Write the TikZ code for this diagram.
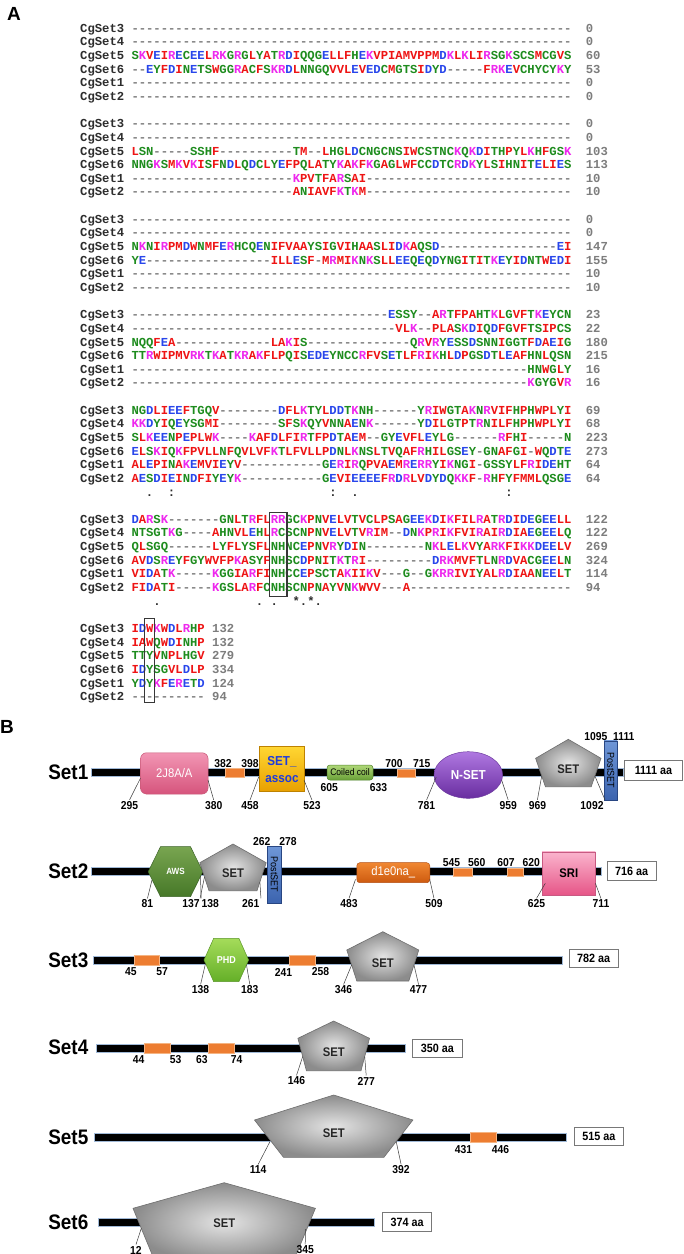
\documentclass[tikz,border=0pt]{standalone}
\usepackage{fontspec}
\setmainfont{Liberation Sans}
\newfontfamily\seqfont{Liberation Mono}
\newfontfamily\narrowfont{Liberation Sans}[FakeStretch=0.9]
\usetikzlibrary{shapes.geometric}

\definecolor{aared}{RGB}{238,20,20}
\definecolor{aablue}{RGB}{40,70,235}
\definecolor{aamag}{RGB}{238,40,238}
\definecolor{aagreen}{RGB}{30,140,30}
\definecolor{aagap}{RGB}{125,125,125}
\definecolor{namegray}{RGB}{45,45,45}
\definecolor{numgray}{RGB}{125,125,125}
\definecolor{boxgray}{RGB}{55,55,55}
\definecolor{chainedge}{RGB}{160,185,215}
\definecolor{motiforange}{RGB}{237,125,49}
\definecolor{motifedge}{RGB}{245,180,130}
\definecolor{pinktop}{RGB}{242,150,180}
\definecolor{pinkbot}{RGB}{214,84,124}
\definecolor{pinkedge}{RGB}{200,90,120}
\definecolor{goldtop}{RGB}{255,214,50}
\definecolor{goldbot}{RGB}{232,160,0}
\definecolor{goldedge}{RGB}{190,130,0}
\definecolor{assocblue}{RGB}{30,60,220}
\definecolor{coiltop}{RGB}{175,215,120}
\definecolor{coilbot}{RGB}{105,160,55}
\definecolor{coiledge}{RGB}{80,130,45}
\definecolor{nsettop}{RGB}{175,120,225}
\definecolor{nsetbot}{RGB}{105,45,160}
\definecolor{nsetedge}{RGB}{110,60,160}
\definecolor{posttop}{RGB}{110,150,215}
\definecolor{postbot}{RGB}{60,100,175}
\definecolor{postedge}{RGB}{40,70,130}
\definecolor{d1etop}{RGB}{240,135,50}
\definecolor{d1ebot}{RGB}{205,90,15}
\definecolor{d1eedge}{RGB}{180,80,20}
\definecolor{sritop}{RGB}{250,180,205}
\definecolor{sribot}{RGB}{230,85,135}
\definecolor{sriedge}{RGB}{200,90,130}
\definecolor{awstop}{RGB}{120,165,80}
\definecolor{awsbot}{RGB}{70,120,40}
\definecolor{awsedge}{RGB}{60,100,40}
\definecolor{phdtop}{RGB}{165,220,90}
\definecolor{phdbot}{RGB}{100,175,40}
\definecolor{phdedge}{RGB}{90,150,40}
\definecolor{setlight}{RGB}{228,228,228}
\definecolor{setdark}{RGB}{140,140,140}
\definecolor{setedge}{RGB}{110,110,110}
\definecolor{leadgray}{RGB}{60,60,60}
\definecolor{lengray}{RGB}{120,120,120}

\def\aaset#1#2{\expandafter\def\csname aac#1\endcsname{\textcolor{#2}{#1}}}
\aaset A{aared}\aaset V{aared}\aaset F{aared}\aaset P{aared}
\aaset M{aared}\aaset I{aared}\aaset L{aared}\aaset W{aared}
\aaset D{aablue}\aaset E{aablue}
\aaset R{aamag}\aaset K{aamag}
\aaset S{aagreen}\aaset T{aagreen}\aaset Y{aagreen}\aaset H{aagreen}
\aaset C{aagreen}\aaset N{aagreen}\aaset G{aagreen}\aaset Q{aagreen}
\aaset -{aagap}
\def\aaseq#1{\ifx#1\relax\else\csname aac#1\endcsname\expandafter\aaseq\fi}

\begin{document}
\begin{tikzpicture}[x=1pt,y=-1pt]
    \tikzstyle{every node}+=[inner sep=0pt]
    \tikzstyle{seqname}=[anchor=base west,font=\seqfont\bfseries\fontsize{12.22}{14}\selectfont,text=namegray]
    \tikzstyle{seqres}=[anchor=base west,font=\seqfont\bfseries\fontsize{12.22}{14}\selectfont]
    \tikzstyle{seqnum}=[anchor=base west,font=\seqfont\bfseries\fontsize{12.22}{14}\selectfont,text=numgray]
    \tikzstyle{consmark}=[anchor=base,font=\seqfont\bfseries\fontsize{12.22}{14}\selectfont,text=namegray]
    \tikzstyle{alnbox}=[draw=boxgray,line width=1.2pt]
    \tikzstyle{panel}=[anchor=west,font=\bfseries\fontsize{19}{19}\selectfont]
    \tikzstyle{protname}=[anchor=east,font=\narrowfont\bfseries\fontsize{21}{21}\selectfont]
    \tikzstyle{chain}=[fill=black,draw=chainedge,line width=0.7pt]
    \tikzstyle{motif}=[draw=motifedge,line width=0.5pt,fill=motiforange]
    \tikzstyle{resnum}=[font=\narrowfont\bfseries\fontsize{11.5}{12}\selectfont,outer sep=1.5pt]
    \tikzstyle{lead}=[draw=leadgray,line width=0.5pt]
    \tikzstyle{lenbox}=[draw=lengray,line width=0.9pt,fill=white,font=\narrowfont\bfseries\fontsize{12}{12}\selectfont]
    \tikzstyle{setpent}=[inner color=setlight,outer color=setdark,draw=setedge,line width=0.6pt]
    \tikzstyle{settext}=[font=\narrowfont\bfseries\fontsize{12.5}{13}\selectfont,text=black!85]
    \tikzstyle{pinkbox}=[rounded corners=6pt,top color=pinktop,bottom color=pinkbot,draw=pinkedge,line width=0.5pt,text=white,font=\narrowfont\fontsize{12.5}{13}\selectfont]
    \tikzstyle{assocbox}=[top color=goldtop,bottom color=goldbot,draw=goldedge,line width=0.6pt,text=assocblue,align=center,font=\narrowfont\bfseries\fontsize{13}{17}\selectfont]
    \tikzstyle{coilbox}=[rounded corners=3pt,top color=coiltop,bottom color=coilbot,draw=coiledge,line width=0.5pt,font=\narrowfont\fontsize{9.5}{10}\selectfont]
    \tikzstyle{nsetell}=[ellipse,top color=nsettop,bottom color=nsetbot,draw=nsetedge,line width=0.5pt,text=white,font=\narrowfont\bfseries\fontsize{13}{13}\selectfont]
    \tikzstyle{postbox}=[top color=posttop,bottom color=postbot,draw=postedge,line width=0.5pt,font=\narrowfont\fontsize{10}{10}\selectfont]
    \tikzstyle{d1ebox}=[rounded corners=3pt,top color=d1etop,bottom color=d1ebot,draw=d1eedge,line width=0.5pt,text=white,font=\narrowfont\fontsize{12.5}{13}\selectfont]
    \tikzstyle{sribox}=[top color=sritop,bottom color=sribot,draw=sriedge,line width=0.5pt,font=\narrowfont\bfseries\fontsize{12.5}{13}\selectfont]
    \tikzstyle{awshex}=[top color=awstop,bottom color=awsbot,draw=awsedge,line width=0.5pt]
    \tikzstyle{phdhex}=[top color=phdtop,bottom color=phdbot,draw=phdedge,line width=0.5pt]
    \tikzstyle{hextext}=[text=white,font=\narrowfont\bfseries\fontsize{9}{9}\selectfont]

    \fill[white] (0,0) rectangle (684,1254);
    \useasboundingbox (0,0) rectangle (684,1254);

    \node[panel] (pa) at (7,14) {A};
    \node[panel] (pb) at (0,726.5) {B};

    \foreach \rk/\rn/\rs/\rc in {
      0/CgSet3/------------------------------------------------------------/0,
      1/CgSet4/------------------------------------------------------------/0,
      2/CgSet5/SKVEIRECEELRKGRGLYATRDIQQGELLFHEKVPIAMVPPMDKLKLIRSGKSCSMCGVS/60,
      3/CgSet6/--EYFDINETSWGGRACFSKRDLNNGQVVLEVEDCMGTSIDYD-----FRKEVCHYCYKY/53,
      4/CgSet1/------------------------------------------------------------/0,
      5/CgSet2/------------------------------------------------------------/0,
      7/CgSet3/------------------------------------------------------------/0,
      8/CgSet4/------------------------------------------------------------/0,
      9/CgSet5/LSN-----SSHF----------TM--LHGLDCNGCNSIWCSTNCKQKDITHPYLKHFGSK/103,
      10/CgSet6/NNGKSMKVKISFNDLQDCLYEFPQLATYKAKFKGAGLWFCCDTCRDKYLSIHNITELIES/113,
      11/CgSet1/----------------------KPVTFARSAI----------------------------/10,
      12/CgSet2/----------------------ANIAVFKTKM----------------------------/10,
      14/CgSet3/------------------------------------------------------------/0,
      15/CgSet4/------------------------------------------------------------/0,
      16/CgSet5/NKNIRPMDWNMFERHCQENIFVAAYSIGVIHAASLIDKAQSD----------------EI/147,
      17/CgSet6/YE-----------------ILLESF-MRMIKNKSLLEEQEQDYNGITITKEYIDNTWEDI/155,
      18/CgSet1/------------------------------------------------------------/10,
      19/CgSet2/------------------------------------------------------------/10,
      21/CgSet3/-----------------------------------ESSY--ARTFPAHTKLGVFTKEYCN/23,
      22/CgSet4/------------------------------------VLK--PLASKDIQDFGVFTSIPCS/22,
      23/CgSet5/NQQFEA-------------LAKIS--------------QRVRYESSDSNNIGGTFDAEIG/180,
      24/CgSet6/TTRWIPMVRKTKATKRAKFLPQISEDEYNCCRFVSETLFRIKHLDPGSDTLEAFHNLQSN/215,
      25/CgSet1/------------------------------------------------------HNWGLY/16,
      26/CgSet2/------------------------------------------------------KGYGVR/16,
      28/CgSet3/NGDLIEEFTGQV--------DFLKTYLDDTKNH------YRIWGTAKNRVIFHPHWPLYI/69,
      29/CgSet4/KKDYIQEYSGMI--------SFSKQYVNNAENK------YDILGTPTRNILFHPHWPLYI/68,
      30/CgSet5/SLKEENPEPLWK----KAFDLFIRTFPDTAEM--GYEVFLEYLG------RFHI-----N/223,
      31/CgSet6/ELSKIQKFPVLLNFQVLVFKTLFVLLPDNLKNSLTVQAFRHILGSEY-GNAFGI-WQDTE/273,
      32/CgSet1/ALEPINAKEMVIEYV-----------GERIRQPVAEMRERRYIKNGI-GSSYLFRIDEHT/64,
      33/CgSet2/AESDIEINDFIYEYK-----------GEVIEEEEFRDRLVDYDQKKF-RHFYFMMLQSGE/64,
      36/CgSet3/DARSK-------GNLTRFLRRGCKPNVELVTVCLPSAGEEKDIKFILRATRDIDEGEELL/122,
      37/CgSet4/NTSGTKG----AHNVLEHLRCSCNPNVELVTVRIM--DNKPRIKFVIRAIRDIAEGEELQ/122,
      38/CgSet5/QLSGQ------LYFLYSFLNHNCEPNVRYDIN--------NKLELKVYARKFIKKDEELV/269,
      39/CgSet6/AVDSREYFGYWVFPKASYFNHSCDPNITKTRI---------DRKMVFTLNRDVACGEELN/324,
      40/CgSet1/VIDATK-----KGGIARFINHCCEPSCTAKIIKV---G--GKRRIVIYALRDIAANEELT/114,
      41/CgSet2/FIDATI-----KGSLARFCNHSCNPNAYVNKWVV---A----------------------/94}
    {
      \node[seqname] (nm\rk) at (80,{32.3+13.64*\rk}) {\rn};
      \node[seqres] (sq\rk) at (131.3,{32.3+13.64*\rk}) {\expandafter\aaseq\rs\relax};
      \node[seqnum] (nr\rk) at (585.7,{32.3+13.64*\rk}) {\rc};
    }
    \foreach \rk/\rn/\rs/\rc in {
      44/CgSet3/IDWKWDLRHP/132, 45/CgSet4/IAWQWDINHP/132, 46/CgSet5/TTYVNPLHGV/279,
      47/CgSet6/IDYSGVLDLP/334, 48/CgSet1/YDYKFERETD/124, 49/CgSet2/----------/94}
    {
      \node[seqname] (nm\rk) at (80,{32.3+13.64*\rk}) {\rn};
      \node[seqres] (sq\rk) at (131.3,{32.3+13.64*\rk}) {\expandafter\aaseq\rs\relax};
      \node[seqnum] (nr\rk) at (212,{32.3+13.64*\rk}) {\rc};
    }
    \foreach \ci/\cm in {2/.,5/:,27/:,30/.,51/:}
      \node[consmark] (ca\ci) at ({131.3+(\ci+0.5)*7.333},{32.3+13.64*34}) {\cm};
    \foreach \ci/\cm in {3/.,17/.,19/.,22/*,23/.,24/*,25/.}
      \node[consmark] (cb\ci) at ({131.3+(\ci+0.5)*7.333},{32.3+13.64*42}) {\cm};
    \draw[alnbox] (269.8,512.7) rectangle (287,596.7);
    \draw[alnbox] (144.5,618.3) rectangle (154.5,702.7);

    \draw[chain] (91.6,768.5) rectangle (623,776.5);
    \draw[chain] (91.6,867.7) rectangle (601.7,875.7);
    \draw[chain] (93.7,956.3) rectangle (562.4,964.3);
    \draw[chain] (95.9,1044.3) rectangle (405.5,1052.3);
    \draw[chain] (94.6,1133) rectangle (566.8,1141);
    \draw[chain] (98.1,1218.7) rectangle (374.1,1226.7);
    \node[protname] (p1) at (88.5,772.5) {Set1};
    \node[protname] (p2) at (88.5,871.7) {Set2};
    \node[protname] (p3) at (88.5,960) {Set3};
    \node[protname] (p4) at (88.5,1047.5) {Set4};
    \node[protname] (p5) at (88.5,1137.5) {Set5};
    \node[protname] (p6) at (88.5,1222.5) {Set6};

    \node[pinkbox,minimum width=67.5pt,minimum height=41.3pt] (j8a) at (174.3,773.4) {2J8A/A};
    \node[motif,minimum width=18.8pt,minimum height=9pt] (m1a) at (234.9,772.5) {};
    \node[assocbox,minimum width=45pt,minimum height=45pt] (assoc) at (282,769.2) {SET\_\\assoc};
    \node[coilbox,minimum width=46pt,minimum height=15pt] (coil) at (350,772.5) {Coiled coil};
    \node[motif,minimum width=18pt,minimum height=8.5pt] (m1b) at (406,773) {};
    \node[nsetell,minimum width=68.6pt,minimum height=46.6pt] (nset) at (468.3,775) {N-SET};
    \node[postbox,rotate=-90,minimum width=59.3pt,minimum height=13.3pt] (ps1) at (610.7,770.4) {PostSET};

    \shadedraw[awshex] (148.2,871.7) -- (160.5,846.7) -- (190.5,846.7) -- (202.8,871.7) -- (190.5,896.7) -- (160.5,896.7) -- cycle;
    \node[hextext] (aws) at (175.5,871.7) {AWS};
    \node[postbox,rotate=-90,minimum width=56.7pt,minimum height=14.3pt] (ps2) at (274.2,874.4) {PostSET};
    \node[d1ebox,minimum width=72.9pt,minimum height=20pt] (d1e) at (393.3,872.7) {d1e0na\_};
    \node[motif,minimum width=18.4pt,minimum height=8.5pt] (m2a) at (462.8,872) {};
    \node[motif,minimum width=16.1pt,minimum height=8.5pt] (m2b) at (515.4,872) {};
    \node[sribox,minimum width=53.2pt,minimum height=43.3pt] (sri) at (568.8,873.4) {SRI};

    \node[motif,minimum width=25.2pt,minimum height=10pt] (m3a) at (146.5,960) {};
    \shadedraw[phdhex] (204,960) -- (213.7,938.3) -- (238.9,938.3) -- (248.6,960) -- (238.9,981.7) -- (213.7,981.7) -- cycle;
    \node[hextext,font=\narrowfont\bfseries\fontsize{10}{10}\selectfont] (phd) at (226.3,960) {PHD};
    \node[motif,minimum width=25.8pt,minimum height=10pt] (m3b) at (301.9,960) {};
    \node[motif,minimum width=26.1pt,minimum height=10pt] (m4a) at (157,1048.3) {};
    \node[motif,minimum width=26pt,minimum height=10pt] (m4b) at (221,1048.3) {};
    \node[motif,minimum width=26.2pt,minimum height=10.7pt] (m5a) at (483.1,1137.3) {};

    \foreach \cx/\ty/\sy/\by/\hw/\bw/\tyy/\nm in {
      568.3/739.3/758.3/786.7/32.7/22.9/769.3/sd1,
      233/844/862.7/890.7/33.2/24/873.3/sd2,
      382.8/931.7/950/981/36/26/962.7/sd3,
      333.7/1021/1038.3/1070.7/35.8/27.3/1051.7/sd4,
      333.7/1095/1120/1157.3/79.2/50.2/1133.3/sd5,
      224.2/1182.7/1208.3/1262/91.2/69/1223.3/sd6}
    {
      \shadedraw[setpent] (\cx,\ty) -- ({\cx+\hw},\sy) -- ({\cx+\bw},\by) -- ({\cx-\bw},\by) -- ({\cx-\hw},\sy) -- cycle;
      \node[settext] (\nm) at (\cx,\tyy) {SET};
    }

    \foreach \cx/\cy/\w/\h/\lbl/\nm in {
      653.4/770/57.9/20/1111 aa/len1, 631.6/870.9/49.2/18.3/716 aa/len2,
      593.6/958.2/49.2/18.3/782 aa/len3, 437.3/1048.3/49.7/18/350 aa/len4,
      598.8/1136.7/49.3/18/515 aa/len5, 407.2/1222.2/48.8/19/374 aa/len6}
      \node[lenbox,minimum width=\w pt,minimum height=\h pt] (\nm) at (\cx,\cy) {\lbl};

    \foreach \tx/\ty/\lbl [count=\i] in {
      222.9/764/382, 250/764/398, 394/764/700, 421.8/764/715,
      595.8/736.7/1095, 623.8/736.7/1111, 329.3/787.3/605, 378.6/787.3/633,
      261.7/841.2/262, 287.9/841.2/278, 451.5/862.3/545, 476.8/862.3/560,
      506/862.3/607, 531.3/862.3/620,
      130.8/972/45, 162.2/972/57, 283.4/972/241, 320.5/972/258,
      138.6/1059.7/44, 175.7/1059.7/53, 201.9/1059.7/63, 236.7/1059.7/74,
      463.5/1150/431, 500.5/1150/446}
      \node[resnum] (lb\i) at (\tx,\ty) {\lbl};

    \foreach \sx/\sy/\tx/\ty/\lbl/\an [count=\i] in {
      140.4/778.3/129.5/805.5/295/north,
      208/780/213.7/805.5/380/north,
      258.7/777/250/805.5/458/north,
      304/780/311.9/805.5/523/north,
      436.2/777/426.6/805.5/781/north,
      501.6/780/508.2/805.5/959/north,
      541.7/776/537.4/805.5/969/north,
      594.9/776/592/805.5/1092/north east,
      152/880/147.4/904/81/north,
      200.5/876/191/904/137/north east,
      204.5/877/210.2/904/138/north west,
      259.9/882/250.8/904/261/north east,
      355.5/879.3/349/904/483/north,
      429.7/879.3/434/904/509/north,
      545.3/883.3/536.5/904/625/north,
      595.4/883.3/601/904/711/north,
      205.5/963.5/200.6/990/138/north,
      246.5/965/249.8/990/183/north,
      351.6/965/343.6/990/346/north,
      414/965/418.6/990/477/north,
      302.7/1056.5/296.5/1081/146/north,
      364.7/1056.5/366.2/1081/277/north,
      270/1141.5/258.1/1170/114/north,
      396.2/1141.5/401.1/1170/392/north,
      141.3/1228.3/136/1250/12/north,
      305.5/1229/305.2/1250/345/north}
    {
      \coordinate (ls\i) at (\sx,\sy);
      \node[resnum] (lt\i) at (\tx,\ty) {\lbl};
      \draw[lead] (ls\i) -- (lt\i.\an);
    }
\end{tikzpicture}
\end{document}
